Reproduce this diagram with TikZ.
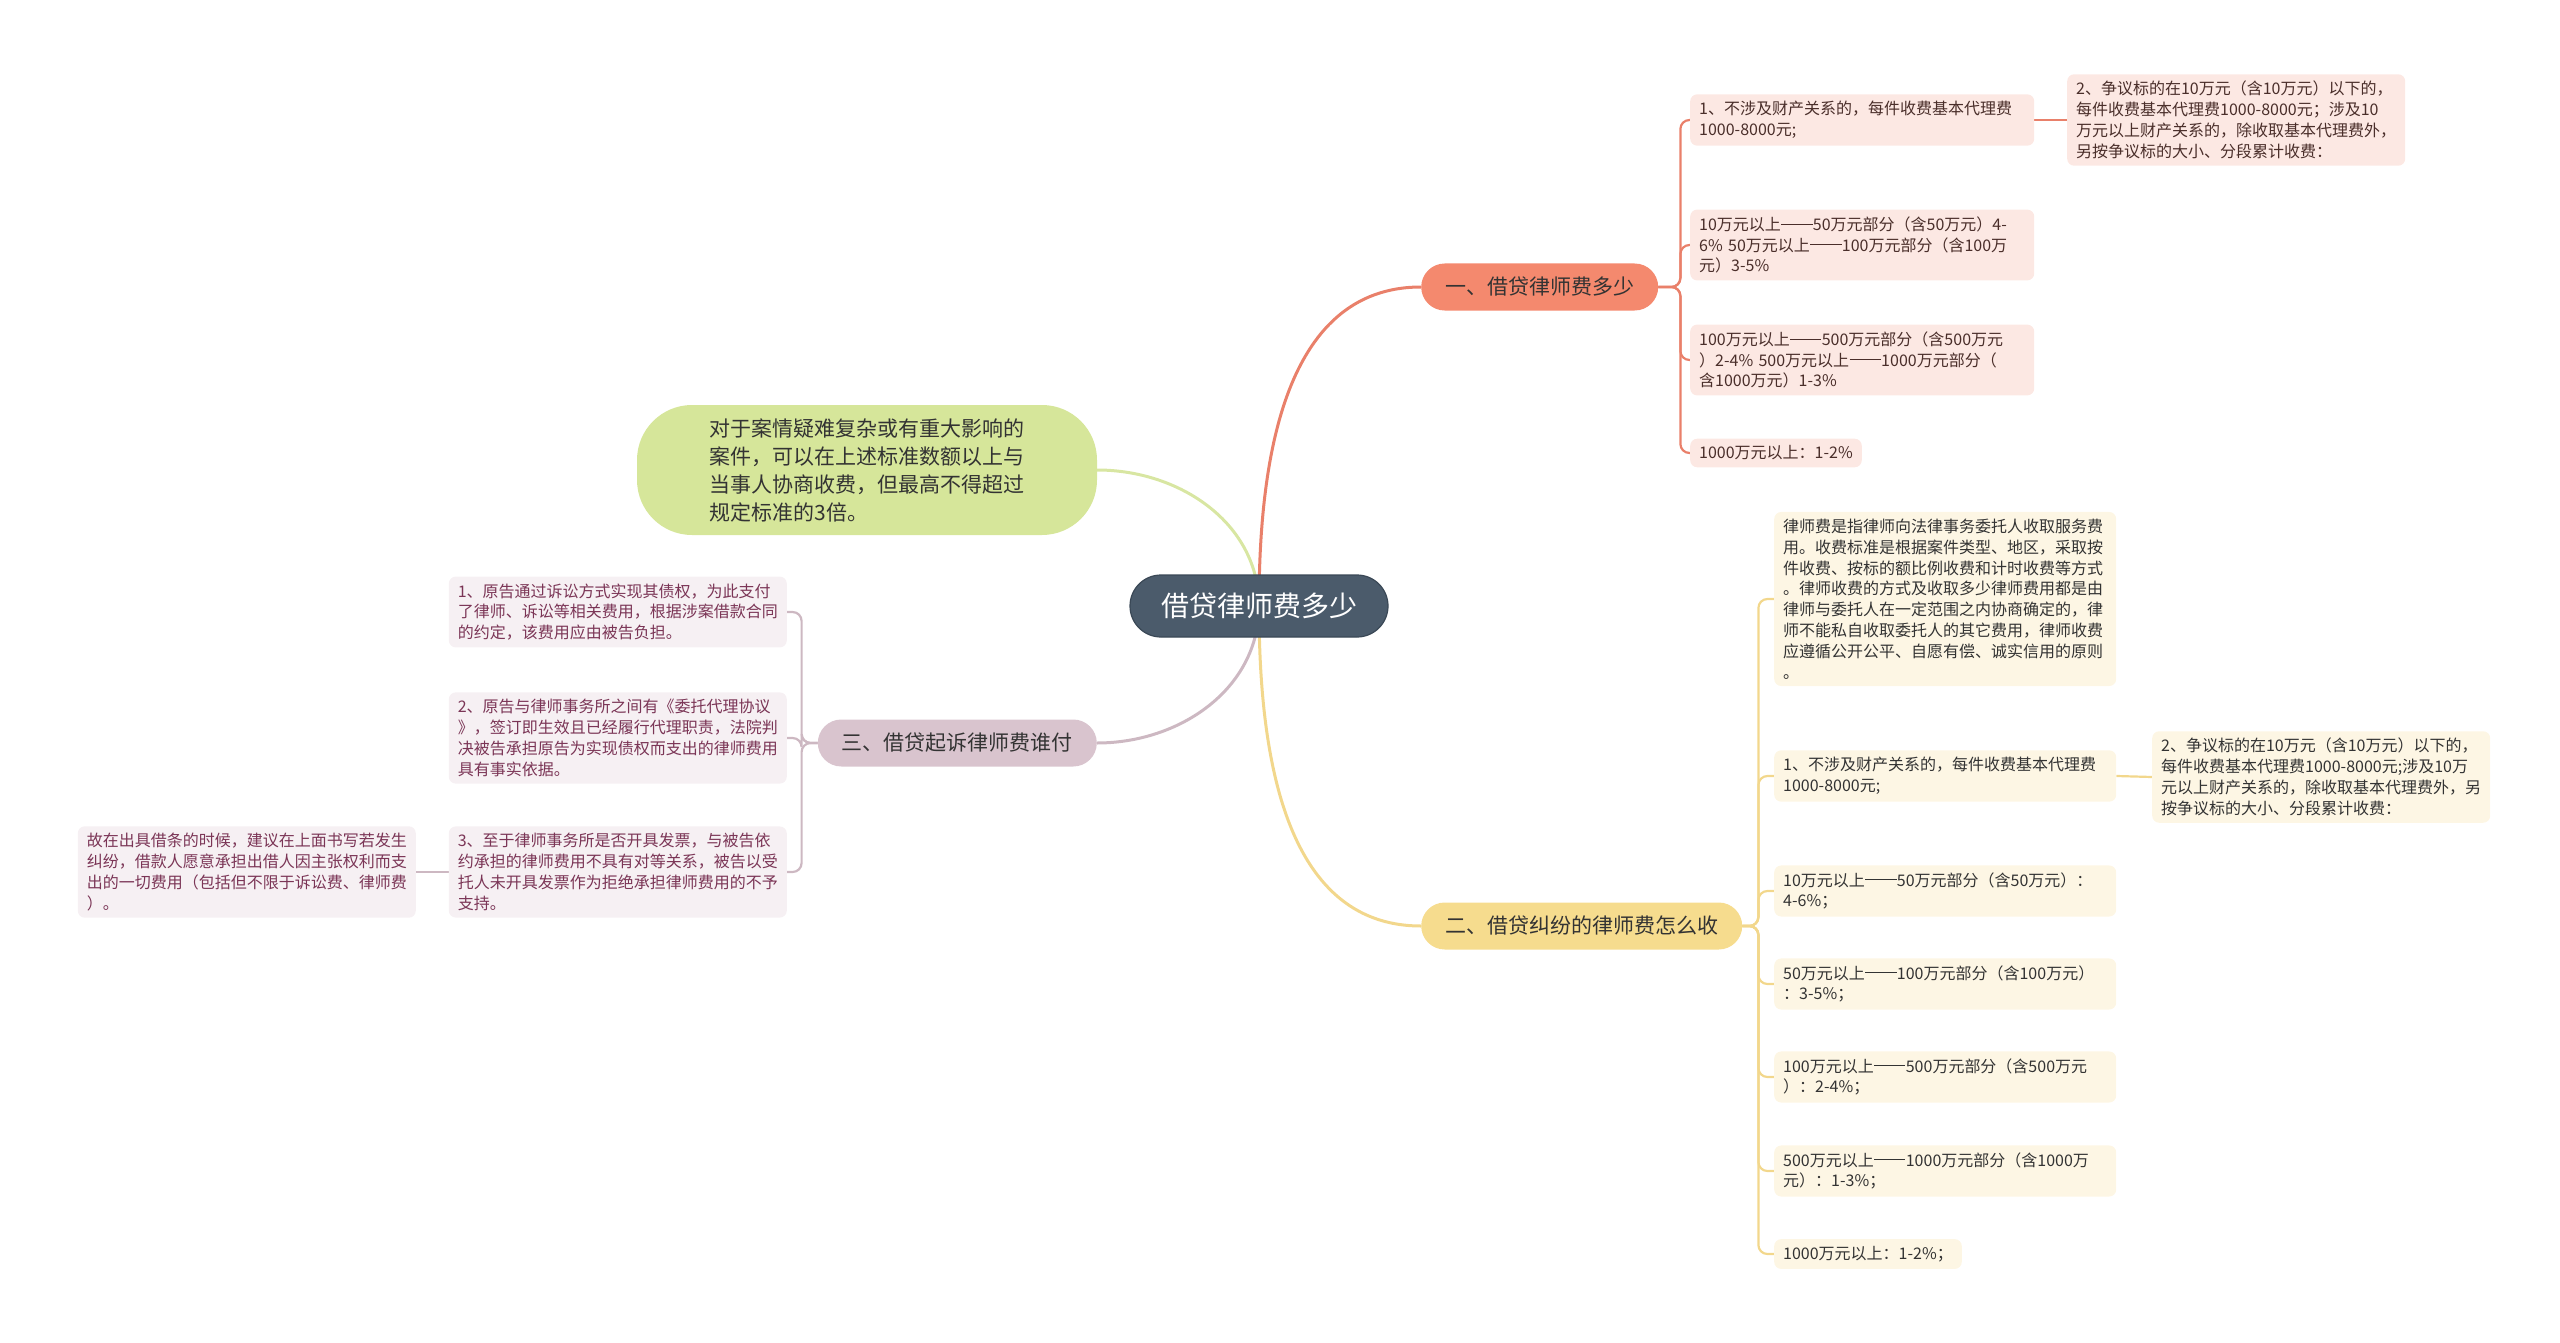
\documentclass[tikz,border=0pt]{standalone}
\usepackage{fontspec}
\setmainfont{Noto Sans CJK SC}
\usetikzlibrary{backgrounds}
\definecolor{rootfill}{HTML}{4B5B6B}
\definecolor{rootedge}{HTML}{3A4856}
\definecolor{redfill}{HTML}{F4896E}
\definecolor{redline}{HTML}{E9806A}
\definecolor{redleaf}{HTML}{FCE8E3}
\definecolor{redtext}{HTML}{4A2E2A}
\definecolor{yelfill}{HTML}{F6DC8E}
\definecolor{yelline}{HTML}{F2D78C}
\definecolor{yelleaf}{HTML}{FDF6E4}
\definecolor{mauvefill}{HTML}{D9C4CE}
\definecolor{mauveline}{HTML}{CDB8C2}
\definecolor{mauveleaf}{HTML}{F6F0F3}
\definecolor{mauvetext}{HTML}{7B3556}
\definecolor{greenfill}{HTML}{D6E69A}
\definecolor{greenline}{HTML}{D8E6A2}
\definecolor{darktext}{HTML}{333333}
\newcommand\longdash{\makebox[2em]{\rule[0.36em]{1.95em}{0.06em}}}
\tikzset{
  root/.style={fill=rootfill, draw=rootedge, line width=1.2pt, text=white,
    rounded corners=31pt, minimum height=62pt, inner xsep=31pt,
    font=\fontsize{28}{32}\selectfont},
  topic/.style={rounded corners=23.5pt, minimum height=47pt, inner xsep=24pt,
    text=darktext, font=\fontsize{21}{25}\selectfont},
  leaf/.style={rounded corners=7pt, inner xsep=9pt, inner ysep=7pt, align=left,
    font=\fontsize{16}{20.8}\selectfont},
  wide/.style={text width=#1},
  redleaf/.style={leaf, fill=redleaf, text=redtext},
  yelleaf/.style={leaf, fill=yelleaf, text=darktext},
  mauveleaf/.style={leaf, fill=mauveleaf, text=mauvetext},
  trunk/.style={line width=3pt},
  twig/.style={line width=2.2pt, rounded corners=9pt},
}
\begin{document}
\begin{tikzpicture}[x=1pt, y=-1pt]
\useasboundingbox (0,0) rectangle (2560,1343);
% centre and topics
\node[root] (root) at (1259,606) {借贷律师费多少};
\node[topic, fill=redfill, anchor=west] (b1) at (1421,287) {一、借贷律师费多少};
\node[topic, fill=yelfill, anchor=west] (b2) at (1421,926) {二、借贷纠纷的律师费怎么收};
\node[topic, fill=mauvefill, anchor=east] (b3) at (1097,743) {三、借贷起诉律师费谁付};
\node[fill=greenfill, rounded corners=55pt, minimum width=460pt, minimum height=130pt,
  align=left, text=darktext, font=\fontsize{21}{28}\selectfont] (triple) at (867,470)
  {对于案情疑难复杂或有重大影响的\\案件，可以在上述标准数额以上与\\当事人协商收费，但最高不得超过\\规定标准的3倍。};
% topic one
\node[redleaf, wide=326pt, anchor=west] (b1a) at (1690,120) {1、不涉及财产关系的，每件收费基本代理费\\1000-8000元;};
\node[redleaf, anchor=west] (b1b) at (2067,120) {2、争议标的在10万元（含10万元）以下的，\\每件收费基本代理费1000-8000元；涉及10\\万元以上财产关系的，除收取基本代理费外，\\另按争议标的大小、分段累计收费：};
\node[redleaf, wide=326pt, anchor=west] (b1c) at (1690,245) {10万元以上\longdash 50万元部分（含50万元）4-\\6\% 50万元以上\longdash 100万元部分（含100万\\元）3-5\%};
\node[redleaf, wide=326pt, anchor=west] (b1d) at (1690,360) {100万元以上\longdash 500万元部分（含500万元\\）2-4\% 500万元以上\longdash 1000万元部分（\\含1000万元）1-3\%};
\node[redleaf, anchor=west] (b1e) at (1690,453) {1000万元以上：1-2\%};
% topic two
\node[yelleaf, wide=324pt, anchor=west] (b2a) at (1774,599) {律师费是指律师向法律事务委托人收取服务费\\用。收费标准是根据案件类型、地区，采取按\\件收费、按标的额比例收费和计时收费等方式\\。律师收费的方式及收取多少律师费用都是由\\律师与委托人在一定范围之内协商确定的，律\\师不能私自收取委托人的其它费用，律师收费\\应遵循公开公平、自愿有偿、诚实信用的原则\\。};
\node[yelleaf, wide=324pt, anchor=west] (b2b) at (1774,776) {1、不涉及财产关系的，每件收费基本代理费\\1000-8000元;};
\node[yelleaf, anchor=west] (b2c) at (2152,777) {2、争议标的在10万元（含10万元）以下的，\\每件收费基本代理费1000-8000元;涉及10万\\元以上财产关系的，除收取基本代理费外，另\\按争议标的大小、分段累计收费：};
\node[yelleaf, wide=324pt, anchor=west] (b2d) at (1774,891) {10万元以上\longdash 50万元部分（含50万元）：\\4-6\%；};
\node[yelleaf, wide=324pt, anchor=west] (b2e) at (1774,984) {50万元以上\longdash 100万元部分（含100万元）\\：3-5\%；};
\node[yelleaf, wide=324pt, anchor=west] (b2f) at (1774,1077) {100万元以上\longdash 500万元部分（含500万元\\）：2-4\%；};
\node[yelleaf, wide=324pt, anchor=west] (b2g) at (1774,1171) {500万元以上\longdash 1000万元部分（含1000万\\元）：1-3\%；};
\node[yelleaf, anchor=west] (b2h) at (1774,1254) {1000万元以上：1-2\%；};
% topic three
\node[mauveleaf, anchor=east] (b3a) at (787,612) {1、原告通过诉讼方式实现其债权，为此支付\\了律师、诉讼等相关费用，根据涉案借款合同\\的约定，该费用应由被告负担。};
\node[mauveleaf, anchor=east] (b3b) at (787,738) {2、原告与律师事务所之间有《委托代理协议\\》，签订即生效且已经履行代理职责，法院判\\决被告承担原告为实现债权而支出的律师费用\\具有事实依据。};
\node[mauveleaf, anchor=east] (b3c) at (787,872) {3、至于律师事务所是否开具发票，与被告依\\约承担的律师费用不具有对等关系，被告以受\\托人未开具发票作为拒绝承担律师费用的不予\\支持。};
\node[mauveleaf, anchor=east] (b3d) at (416,872) {故在出具借条的时候，建议在上面书写若发生\\纠纷，借款人愿意承担出借人因主张权利而支\\出的一切费用（包括但不限于诉讼费、律师费\\）。};
\begin{scope}[on background layer]
\draw[trunk, redline] (root.center) to[out=90, in=180] (b1.west);
\draw[trunk, greenline] (triple.east) to[out=0, in=90] (root.center);
\draw[trunk, yelline] (root.center) to[out=-90, in=180] (b2.west);
\draw[trunk, mauveline] (root.center) to[out=-90, in=0] (b3.east);
\foreach \n in {b1a,b1c,b1d,b1e}
  \draw[twig, redline] (b1.east) -- ++(22,0) |- (\n.west);
\draw[twig, redline] (b1a.east) -- (b1b.west);
\foreach \n in {b2a,b2b,b2d,b2e,b2f,b2g,b2h}
  \draw[twig, yelline] (b2.east) -- ++(16,0) |- (\n.west);
\draw[twig, yelline] (b2b.east) -- (b2c.west);
\foreach \n in {b3a,b3b,b3c}
  \draw[twig, mauveline] (b3.west) -- ++(-16,0) |- (\n.east);
\draw[twig, mauveline] (b3c.west) -- (b3d.east);
\end{scope}
\end{tikzpicture}
\end{document}
